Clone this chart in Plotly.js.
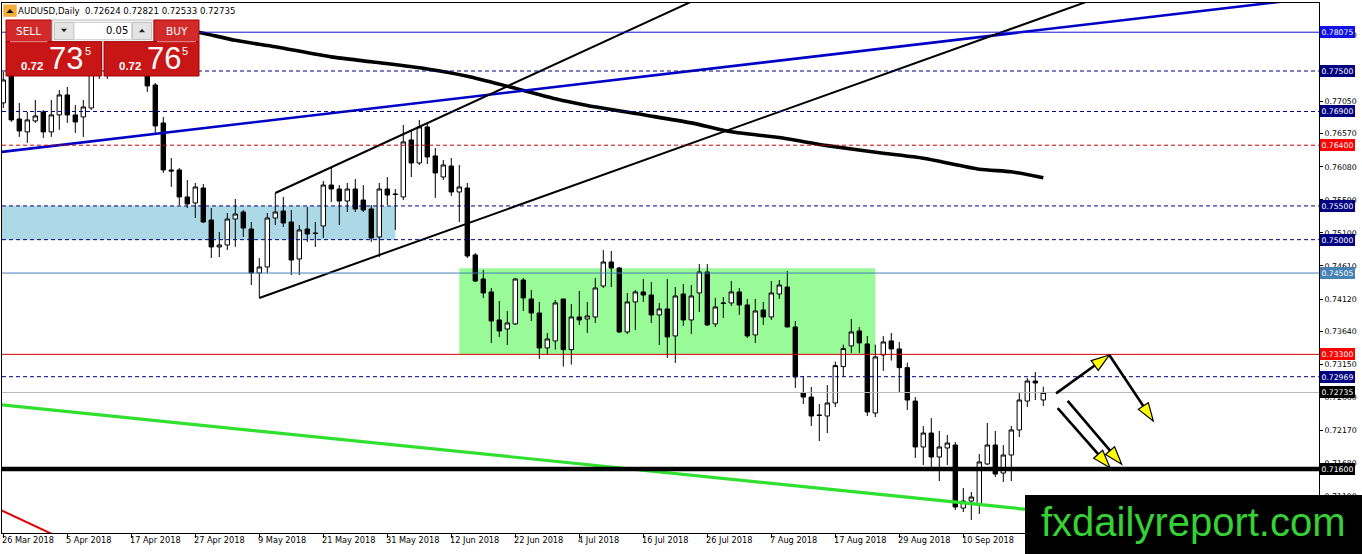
<!DOCTYPE html>
<html><head><meta charset="utf-8">
<script src="https://cdn.plot.ly/plotly-3.0.1.min.js"></script>
<style>html,body{margin:0;padding:0;background:#fff;overflow:hidden}#chart{width:1362px;height:554px}</style>
</head><body><div id="chart"></div>
<script>
// ---------------- DATA ----------------
const symbolName = "AUDUSD,Daily";
const dateLabels = ["26 Mar 2018","5 Apr 2018","17 Apr 2018","27 Apr 2018","9 May 2018","21 May 2018","31 May 2018","12 Jun 2018","22 Jun 2018","4 Jul 2018","16 Jul 2018","26 Jul 2018","7 Aug 2018","17 Aug 2018","29 Aug 2018","10 Sep 2018"];
const barsPerDateLabel = 8;

const opens = [0.77027,0.77426,0.76789,0.76597,0.7676,0.76893,0.76597,0.76849,0.77145,0.76849,
0.76819,0.76952,0.77545,0.77886,0.77738,0.78034,0.77842,0.77694,0.77782,0.77293,
0.7673,0.76033,0.76033,0.75633,0.75544,0.75766,0.75292,0.74892,0.74921,0.75306,
0.7541,0.75158,0.74506,0.74595,0.75321,0.75425,0.75262,0.74713,0.75158,0.75099,
0.75203,0.7581,0.75751,0.75573,0.75751,0.75588,0.75455,0.7504,0.75751,0.75677,
0.75633,0.76478,0.76137,0.76671,0.76241,0.75929,0.76092,0.75707,0.75766,0.74773,
0.74417,0.74225,0.7381,0.73676,0.73751,0.74402,0.74121,0.73913,0.73395,0.73499,
0.74121,0.7337,0.73854,0.73824,0.73854,0.74313,0.74669,0.7458,0.73632,0.74077,
0.74225,0.7418,0.73884,0.73973,0.73573,0.74195,0.7381,0.7421,0.74521,0.73751,
0.74062,0.74062,0.74225,0.74032,0.73588,0.73958,0.73854,0.74195,0.74298,0.73706,
0.72727,0.72667,0.72401,0.72386,0.72579,0.73118,0.73425,0.73647,0.73454,0.72431,
0.73291,0.73499,0.7338,0.73103,0.72608,0.71927,0.72134,0.71779,0.71912,0.71956,
0.71022,0.71126,0.71067,0.71675,0.71956,0.71541,0.71808,0.72179,0.72608,0.72905,
0.72624];
const highs = [0.77486,0.77515,0.77027,0.76893,0.77071,0.76923,0.77071,0.77219,0.77264,0.76997,
0.77071,0.77634,0.7799,0.7796,0.78138,0.78108,0.77931,0.77886,0.77842,0.77323,
0.76819,0.76211,0.76063,0.75885,0.7584,0.75825,0.75469,0.75114,0.75395,0.75603,
0.7544,0.75262,0.74728,0.75395,0.75692,0.75633,0.7544,0.75218,0.75484,0.75262,
0.7587,0.76063,0.7581,0.7584,0.759,0.7581,0.75514,0.7584,0.75929,0.75751,
0.76701,0.76627,0.76775,0.7673,0.76359,0.76181,0.76211,0.76107,0.7584,0.74802,
0.7455,0.74284,0.74091,0.73943,0.74432,0.74432,0.74254,0.74077,0.73617,0.74106,
0.74121,0.74047,0.74239,0.74077,0.74432,0.74847,0.74832,0.74595,0.7421,0.74254,
0.74417,0.74372,0.74062,0.74417,0.74298,0.74343,0.74328,0.74639,0.74639,0.74136,
0.7415,0.74387,0.74284,0.74121,0.74121,0.74077,0.74387,0.74402,0.74536,0.73795,
0.7298,0.72816,0.72564,0.72846,0.73192,0.73444,0.73824,0.73706,0.73573,0.73444,
0.73573,0.73617,0.73484,0.73177,0.72667,0.72238,0.72356,0.72164,0.72105,0.72001,
0.71319,0.7126,0.71823,0.72282,0.72164,0.71956,0.72238,0.72742,0.7295,0.73039,
0.72821];
const lows = [0.76952,0.76745,0.76523,0.76434,0.7673,0.76508,0.76523,0.76627,0.7673,0.76582,
0.76523,0.76923,0.77382,0.77382,0.77634,0.77738,0.77575,0.77515,0.7719,0.76582,
0.75989,0.75781,0.75514,0.75469,0.75321,0.75247,0.74728,0.74743,0.74847,0.74892,
0.7504,0.74328,0.74136,0.74506,0.75218,0.75188,0.74476,0.74476,0.74966,0.74892,
0.75025,0.75558,0.75218,0.7541,0.7541,0.7541,0.74966,0.74743,0.75514,0.75144,
0.75588,0.75929,0.76107,0.76122,0.75618,0.75885,0.75648,0.75262,0.74728,0.74372,
0.74136,0.73469,0.73558,0.73439,0.73736,0.73943,0.73795,0.73232,0.73291,0.7337,
0.73118,0.73148,0.73736,0.73617,0.73765,0.74284,0.74298,0.73617,0.73602,0.73662,
0.74077,0.73765,0.73439,0.73247,0.73173,0.73721,0.73602,0.73928,0.73721,0.73706,
0.7384,0.74017,0.73884,0.73543,0.73469,0.73736,0.7381,0.74121,0.737,0.72802,
0.72564,0.72238,0.72016,0.72134,0.72519,0.72965,0.73321,0.73321,0.72386,0.72371,
0.73054,0.73207,0.72742,0.72475,0.71764,0.71659,0.71615,0.71422,0.71659,0.70993,
0.70963,0.70845,0.70934,0.71659,0.71482,0.71408,0.71422,0.72075,0.72519,0.72623,
0.72533];
const closes = [0.77367,0.76775,0.76612,0.76775,0.76834,0.76597,0.76849,0.77145,0.76849,0.76745,
0.76967,0.77545,0.77886,0.77738,0.78034,0.77842,0.77694,0.77812,0.77279,0.76686,
0.76033,0.76018,0.75633,0.75529,0.75781,0.75262,0.74892,0.74921,0.75306,0.7538,
0.75173,0.74506,0.74595,0.75321,0.7541,0.75247,0.74698,0.75144,0.75084,0.75092,
0.7581,0.75751,0.75573,0.75751,0.75455,0.7544,0.75025,0.75751,0.75662,0.7567,
0.76449,0.76137,0.76671,0.76226,0.75989,0.76107,0.75707,0.75781,0.74758,0.74387,
0.7421,0.73795,0.73647,0.73765,0.74417,0.74136,0.73913,0.73395,0.73528,0.74062,
0.7337,0.73854,0.7381,0.73869,0.74284,0.74669,0.7458,0.73632,0.74077,0.74225,
0.7418,0.73884,0.73973,0.73558,0.74165,0.7381,0.74165,0.74521,0.73736,0.74002,
0.74055,0.74225,0.74032,0.73573,0.73943,0.73854,0.7421,0.74328,0.73706,0.72965,
0.72667,0.72386,0.72395,0.72579,0.73133,0.73385,0.73632,0.73469,0.72446,0.73262,
0.73484,0.7338,0.73103,0.72623,0.71927,0.72134,0.71779,0.71927,0.71986,0.71037,
0.71126,0.71185,0.71705,0.71956,0.71526,0.71808,0.72179,0.72623,0.72905,0.72876,
0.72735];

// moving average (thick black curve)
const maBars   = [18,25,29,34,41,46,53,58,63,69,73,80,86,91,97,103,110,115,122,126,130];
const maValues = [0.78226,0.7806,0.77955,0.77859,0.77709,0.77636,0.7753,0.77423,0.77275,0.77088,0.76989,0.76851,0.76731,0.76599,0.76513,0.76394,0.76281,0.76207,0.76044,0.76006,0.75918];

// trend lines (bar index, price)
const blueTrendBars = [-1, 165],   blueTrendPrices = [0.7629, 0.78601];
const chanUpperBars = [34, 100],   chanUpperPrices = [0.75692, 0.79291];
const chanLowerBars = [32, 150],   chanLowerPrices = [0.74136, 0.79145];
const greenTrendBars = [-1, 165],  greenTrendPrices = [0.72561, 0.70554];
const redTrendBars = [-1, 8],      redTrendPrices = [0.71031, 0.70531];

// zones
const blueZoneBars = [-2, 49],   blueZonePrices = [0.750, 0.755];
const greenZoneBars = [57, 109], greenZonePrices = [0.733, 0.74575];

// horizontal levels
const levelPrices = [0.78075, 0.775, 0.769, 0.764, 0.755, 0.750, 0.74505, 0.733, 0.72969, 0.72735, 0.716];

// projection arrows [bar, price]
const arrowStarts = [[131.6,0.72722],[138.25,0.7329],[131.8,0.72504],[133.05,0.72611]];
const arrowEnds   = [[138.25,0.7329],[143.75,0.72312],[138.34,0.71619],[139.8,0.7167]];

// price scale ticks
const priceTicks = [0.7803,0.7705,0.7657,0.7608,0.7559,0.7510,0.7461,0.7412,0.7364,0.7315,0.7266,0.7217,0.7168,0.7119];

// one-click panel
const lotSize = "0.05";
const sellBig = "73", buyBig = "76", bigPrefix = "0.72", pipDigit = "5";
const watermark = "fxdailyreport.com";

// ---------------- LAYOUT HELPERS ----------------
const W = 1362, H = 554;
const M = {l:2, r:43, t:3, b:21, pad:0};
const plotW = W - M.l - M.r, plotH = H - M.t - M.b;
const xRange = [-0.1625, -0.1625 + plotW/8];
const yRange = [0.70652, 0.78508];
const pxPerBar = plotW/(xRange[1]-xRange[0]);
const pxPerPrice = plotH/(yRange[1]-yRange[0]);
const PX = x => (x - M.l)/plotW;
const PY = y => 1 - (y - M.t)/plotH;
const FONT = "DejaVu Sans";

const levelStyle = [
  {c:'#1414d2', d:'solid', w:1, box:'#1010e6'},
  {c:'#000080', d:'4px,3px', w:1, box:'#000080'},
  {c:'#000080', d:'4px,3px', w:1, box:'#000080'},
  {c:'#cc0000', d:'4px,3px', w:1, box:'#ff0000'},
  {c:'#000080', d:'4px,3px', w:1, box:'#000080'},
  {c:'#000080', d:'4px,3px', w:1, box:'#000080'},
  {c:'#4682b4', d:'solid', w:1, box:'#4682b4'},
  {c:'#d00000', d:'solid', w:1, box:'#ff0000'},
  {c:'#000080', d:'4px,3px', w:1, box:'#000080'},
  {c:'#b8b8b8', d:'solid', w:1, box:'#000000'},
  {c:'#000000', d:'solid', w:4.5, box:'#000000'}
];

const xs = opens.map((_, i) => i);
const traces = [];
traces.push({
  type:'candlestick', x:xs, open:opens, high:highs, low:lows, close:closes,
  increasing:{line:{color:'#000', width:1}, fillcolor:'#ffffff'},
  decreasing:{line:{color:'#000', width:1}, fillcolor:'#000000'},
  whiskerwidth:0, hoverinfo:'none', showlegend:false
});
traces.push({type:'scatter', mode:'lines', x:maBars, y:maValues, line:{color:'#000', width:3.6, shape:'spline', smoothing:0.6}, hoverinfo:'none', showlegend:false});
function tl(xa, ya, color, width){
  traces.push({type:'scatter', mode:'lines', x:xa, y:ya, line:{color:color, width:width}, hoverinfo:'none', showlegend:false});
}
tl(blueTrendBars, blueTrendPrices, '#0000c8', 2.6);
tl(chanUpperBars, chanUpperPrices, '#000000', 2);
tl(chanLowerBars, chanLowerPrices, '#000000', 2);
tl(greenTrendBars, greenTrendPrices, '#2fe02f', 3.2);
tl(redTrendBars, redTrendPrices, '#e00000', 2);

const shapes = [];
shapes.push({type:'rect', layer:'below', xref:'x', yref:'y', x0:blueZoneBars[0], x1:blueZoneBars[1], y0:blueZonePrices[0], y1:blueZonePrices[1], fillcolor:'#add8e6', line:{width:0}});
shapes.push({type:'rect', layer:'below', xref:'x', yref:'y', x0:greenZoneBars[0], x1:greenZoneBars[1], y0:greenZonePrices[0], y1:greenZonePrices[1], fillcolor:'#98fb98', line:{width:0}});
levelPrices.forEach((p, i) => {
  const s = levelStyle[i];
  shapes.push({type:'line', layer:'above', xref:'paper', yref:'y', x0:0, x1:1, y0:p, y1:p, line:{color:s.c, width:s.w, dash:s.d}});
});

// arrows
arrowStarts.forEach((s, i) => {
  const e = arrowEnds[i];
  const dx = (e[0]-s[0])*pxPerBar, dy = -(e[1]-s[1])*pxPerPrice;
  const len = Math.hypot(dx, dy), ux = dx/len, uy = dy/len;
  const L = 18, w = 6;
  const toData = o => [e[0] + o[0]/pxPerBar, e[1] - o[1]/pxPerPrice];
  const base = toData([-ux*(L-3), -uy*(L-3)]);
  shapes.push({type:'line', layer:'above', xref:'x', yref:'y', x0:s[0], y0:s[1], x1:base[0], y1:base[1], line:{color:'#000', width:2.6}});
  const a = toData([0,0]);
  const b = toData([-ux*L - uy*w, -uy*L + ux*w]);
  const c = toData([-ux*L + uy*w, -uy*L - ux*w]);
  shapes.push({type:'path', layer:'above', xref:'x', yref:'y', path:`M${a[0]},${a[1]} L${b[0]},${b[1]} L${c[0]},${c[1]} Z`, fillcolor:'#ffff00', line:{color:'#000', width:1.2}});
});

// panel shapes (pixel based)
function rectPx(x0,y0,x1,y1,fill,lineColor,lw){
  shapes.push({type:'rect', layer:'above', xref:'paper', yref:'paper', x0:PX(x0), x1:PX(x1), y0:PY(y1), y1:PY(y0), fillcolor:fill, line:{color:lineColor||fill, width:lw===undefined?0:lw}});
}
function triPx(cx,cy,wd,ht,up,color){
  const x0=PX(cx-wd/2), x1=PX(cx+wd/2), xm=PX(cx);
  const yT=PY(cy-ht/2), yB=PY(cy+ht/2);
  const path = up ? `M${x0},${yB} L${x1},${yB} L${xm},${yT} Z` : `M${x0},${yT} L${x1},${yT} L${xm},${yB} Z`;
  shapes.push({type:'path', layer:'above', xref:'paper', yref:'paper', path:path, fillcolor:color, line:{width:0}});
}
rectPx(3.3,4.5,16.7,16.8,'#f2ad3a');
triPx(10,11,7,4,true,'#000');
rectPx(6,20,51.5,41.7,'#d22a2a','#b00000',1);
rectPx(52,20,153.5,41.7,'#f2f2f2','#bdbdbd',1);
rectPx(54.5,22.5,73.5,39.5,'#e4e4e4','#c4c4c4',1);
rectPx(74,22.5,131.5,39.5,'#ffffff','#d6d6d6',1);
rectPx(132.5,22.5,151.5,39.5,'#e4e4e4','#c4c4c4',1);
triPx(64,30.5,6,3.5,false,'#222');
triPx(142,30.5,6,3.5,true,'#222');
rectPx(154,20,199,41.7,'#d22a2a','#b00000',1);
rectPx(6,41.7,101.7,76,'#c81616','#a00000',1);
rectPx(104,41.7,199,76,'#c81616','#a00000',1);
shapes.push({type:'line', layer:'above', xref:'paper', yref:'paper', x0:PX(10), x1:PX(47.5), y0:PY(41.7), y1:PY(41.7), line:{color:'#e89a9a', width:1}});
shapes.push({type:'line', layer:'above', xref:'paper', yref:'paper', x0:PX(157), x1:PX(196), y0:PY(41.7), y1:PY(41.7), line:{color:'#e89a9a', width:1}});
rectPx(1025,495,1362,554,'#000000');

const ann = [];
function txtPx(x,y,text,size,color,xanchor,family,extra){
  ann.push(Object.assign({xref:'paper', yref:'paper', x:PX(x), y:PY(y), text:text, showarrow:false, xanchor:xanchor||'center', yanchor:'middle', font:{family:family||FONT, size:size, color:color}, borderpad:0, borderwidth:0}, extra||{}));
}
const last = opens.length - 1;
txtPx(18, 10.5, `${symbolName}  ${opens[last].toFixed(5)} ${highs[last].toFixed(5)} ${lows[last].toFixed(5)} ${closes[last].toFixed(5)}`, 8.6, '#000', 'left');
txtPx(28.7, 31, 'SELL', 10.5, '#fff');
txtPx(176.5, 31, 'BUY', 10.5, '#fff');
txtPx(128, 31, lotSize, 10, '#000', 'right');
txtPx(31.5, 65.5, `<b>${bigPrefix}</b>`, 11.5, '#fff', 'center', 'Liberation Sans');
txtPx(65.5, 59, sellBig, 31, '#fff', 'center', 'Liberation Sans');
txtPx(88, 51, pipDigit, 11, '#fff', 'center', 'Liberation Sans');
txtPx(130, 65.5, `<b>${bigPrefix}</b>`, 11.5, '#fff', 'center', 'Liberation Sans');
txtPx(163.5, 59, buyBig, 31, '#fff', 'center', 'Liberation Sans');
txtPx(185, 51, pipDigit, 11, '#fff', 'center', 'Liberation Sans');
txtPx(1193, 522, watermark, 40, '#35d135', 'center', 'Liberation Sans');

// price label boxes
levelPrices.forEach((p, i) => {
  ann.push({xref:'paper', yref:'y', x:1, y:p, xanchor:'left', yanchor:'middle', xshift:1, text:p.toFixed(5), showarrow:false,
    bgcolor:levelStyle[i].box, font:{family:FONT, size:7.7, color:'#fff'}, borderpad:1.5, borderwidth:0});
});
// date labels
dateLabels.forEach((d, i) => {
  ann.push({xref:'x', yref:'paper', x:i*barsPerDateLabel, y:0, xanchor:'left', yanchor:'top', xshift:-1.5, yshift:-2, text:d, showarrow:false,
    font:{family:FONT, size:8.2, color:'#000'}, borderpad:0, borderwidth:0});
});

const layout = {
  width:W, height:H, margin:M, paper_bgcolor:'#fff', plot_bgcolor:'#fff', showlegend:false, hovermode:false,
  boxgap:0.45, boxgroupgap:0,
  xaxis:{range:xRange, showgrid:false, zeroline:false, showline:true, mirror:true, linecolor:'#000', linewidth:1,
    ticks:'outside', ticklen:4, tickcolor:'#000', tickvals:dateLabels.map((_, i) => i*barsPerDateLabel), showticklabels:false,
    rangeslider:{visible:false}, fixedrange:true},
  yaxis:{range:yRange, side:'right', showgrid:false, zeroline:false, showline:true, mirror:true, linecolor:'#000', linewidth:1,
    ticks:'outside', ticklen:3, tickcolor:'#000', tickvals:priceTicks, ticktext:priceTicks.map(v => v.toFixed(5)),
    tickfont:{family:FONT, size:7.8, color:'#000'}, fixedrange:true},
  shapes:shapes, annotations:ann
};
Plotly.newPlot('chart', traces, layout, {staticPlot:true, displayModeBar:false});
</script></body></html>
